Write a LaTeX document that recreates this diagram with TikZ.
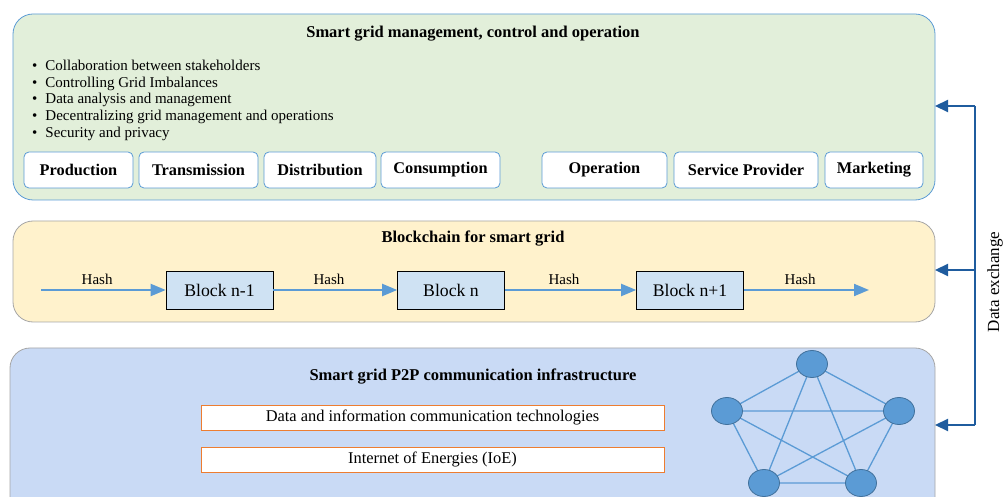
\documentclass[tikz,border=0pt]{standalone}
\usepackage{fontspec}
\setmainfont{Liberation Serif}
\usetikzlibrary{arrows.meta,positioning,shapes.geometric}
\definecolor{mgmtfill}{HTML}{E2EFDA}
\definecolor{chainfill}{HTML}{FFF2CC}
\definecolor{infrafill}{HTML}{C9DAF5}
\definecolor{lineblue}{HTML}{5B9BD5}
\definecolor{blockfill}{HTML}{CFE2F3}
\definecolor{darkblue}{HTML}{1F5C9E}
\definecolor{framegrey}{HTML}{A6A6A6}
\definecolor{peerfill}{HTML}{5B9BD5}
\definecolor{peeredge}{HTML}{41719C}
\definecolor{orangeedge}{HTML}{ED7D31}
\tikzset{
  layer/.style={rounded corners=20pt, line width=0.8pt},
  unitbox/.style={draw=lineblue, fill=white, rounded corners=5pt, line width=0.8pt,
    minimum height=36pt, inner sep=0pt, font=\fontsize{16.3}{18}\selectfont\bfseries},
  blockbox/.style={draw=black, fill=blockfill, line width=0.6pt, minimum width=107pt,
    minimum height=38pt, inner sep=0pt, font=\fontsize{17.7}{20}\selectfont},
  hashlink/.style={draw=lineblue, line width=2pt, -{Triangle[length=15pt,width=12pt]}},
  hashlabel/.style={font=\fontsize{15}{17}\selectfont},
  techbox/.style={draw=orangeedge, fill=white, line width=1pt, minimum width=463pt,
    minimum height=25pt, inner sep=0pt, font=\fontsize{16.4}{18}\selectfont},
  peer/.style={ellipse, draw=peeredge, fill=peerfill, line width=0.8pt,
    minimum width=31pt, minimum height=27pt, inner sep=0pt},
  mesh/.style={draw=lineblue, line width=1.3pt},
  exchange/.style={draw=darkblue, line width=2.2pt},
  exchangetip/.style={exchange, -{Triangle[length=13pt,width=12pt]}},
  heading/.style={font=\fontsize{16.5}{18}\selectfont\bfseries},
}
\begin{document}
\begin{tikzpicture}[x=1pt,y=-1pt]
\useasboundingbox (0,0) rectangle (1005,497);
\clip (0,0) rectangle (1005,497);

% management, control and operation layer
\draw[layer, draw=lineblue, fill=mgmtfill] (13,14) rectangle (935,200);
\node[heading] (mgmttitle) at (473,34) {Smart grid management, control and operation};
\node[anchor=north west, align=left, inner sep=0pt,
      font=\fontsize{15}{16.6}\selectfont] (aims) at (32,60)
  {\textbullet\hspace{8pt}Collaboration between stakeholders\\
   \textbullet\hspace{8pt}Controlling Grid Imbalances\\
   \textbullet\hspace{8pt}Data analysis and management\\
   \textbullet\hspace{8pt}Decentralizing grid management and operations\\
   \textbullet\hspace{8pt}Security and privacy};
\node[unitbox, minimum width=109pt] (prod)  at (78.5,170)  {Production};
\node[unitbox, minimum width=119pt] (trans) at (198.5,170) {Transmission};
\node[unitbox, minimum width=112pt] (dist)  at (320,170)   {Distribution};
\node[unitbox, minimum width=119pt] (cons)  at (440.5,170) {Consumption};
\node[unitbox, minimum width=125pt] (oper)  at (604.5,170) {Operation};
\node[unitbox, minimum width=144pt] (serv)  at (746,170)   {Service Provider};
\node[unitbox, minimum width=98pt]  (mark)  at (874,170)   {Marketing};

% blockchain layer
\draw[layer, draw=framegrey, fill=chainfill] (13,221) rectangle (935,322);
\node[heading] (chaintitle) at (473,239) {Blockchain for smart grid};
\node[blockbox] (bprev) at (219.5,290) {Block n-1};
\node[blockbox] (bcur)  at (451,290)   {Block n};
\node[blockbox] (bnext) at (690,290)   {Block n+1};
\coordinate (chainin)  at (41,290);
\coordinate (chainout) at (869,290);
\draw[hashlink] (chainin) -- node[hashlabel, above=1pt, pos=0.45] {Hash} (bprev);
\draw[hashlink] (bprev) -- node[hashlabel, above=1pt, pos=0.45] {Hash} (bcur);
\draw[hashlink] (bcur) -- node[hashlabel, above=1pt, pos=0.45] {Hash} (bnext);
\draw[hashlink] (bnext) -- node[hashlabel, above=1pt, pos=0.45] {Hash} (chainout);

% P2P communication infrastructure layer
\draw[layer, draw=framegrey, fill=infrafill] (10,348) rectangle (935,520);
\node[heading] (infratitle) at (473,377) {Smart grid P2P communication infrastructure};
\node[techbox] (ict) at (432.5,417.5) {Data and information communication technologies};
\node[techbox] (ioe) at (432.5,459.5) {Internet of Energies (IoE)};

% peer-to-peer mesh
\coordinate (pa) at (812,364);
\coordinate (pb) at (727,411);
\coordinate (pc) at (899,411);
\coordinate (pd) at (764,483);
\coordinate (pe) at (861,483);
\draw[mesh] (pa) -- (pb) (pa) -- (pc) (pa) -- (pd) (pa) -- (pe)
            (pb) -- (pc) (pb) -- (pd) (pb) -- (pe)
            (pc) -- (pd) (pc) -- (pe) (pd) -- (pe);
\node[peer] (na) at (pa) {};
\node[peer] (nb) at (pb) {};
\node[peer] (nc) at (pc) {};
\node[peer] (nd) at (pd) {};
\node[peer] (ne) at (pe) {};

% data exchange bus
\coordinate (bustop) at (975,106);
\coordinate (busmid) at (975,270);
\coordinate (busbot) at (975,425);
\coordinate (mgmtport)  at (935,106);
\coordinate (chainport) at (935,270);
\coordinate (infraport) at (935,425);
\draw[exchange] (bustop) -- (busbot);
\draw[exchangetip] (bustop) -- (mgmtport);
\draw[exchangetip] (busmid) -- (chainport);
\draw[exchangetip] (busbot) -- (infraport);
\node[rotate=90, font=\fontsize{17}{19}\selectfont] (exlabel) at (995,282) {Data exchange};
\end{tikzpicture}
\end{document}
